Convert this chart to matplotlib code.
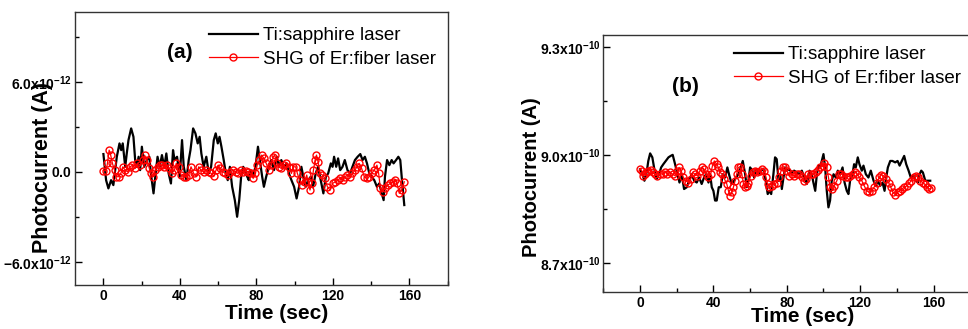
import numpy as np
import matplotlib
matplotlib.use("Agg")
import matplotlib.pyplot as plt
from matplotlib.ticker import MultipleLocator, FuncFormatter

plt.rcParams['font.family'] = ['Liberation Sans', 'DejaVu Sans']
plt.rcParams['font.weight'] = 'bold'
plt.rcParams['mathtext.fontset'] = 'custom'
plt.rcParams['mathtext.rm'] = 'Liberation Sans'
plt.rcParams['mathtext.bf'] = 'Liberation Sans:bold'
plt.rcParams['mathtext.it'] = 'Liberation Sans:italic'

# ---------------- panel (a): photocurrent in units of 1e-12 A ----------------
ti_a_t = [0.0, 1.4, 2.6, 4.0, 5.2, 7.0, 8.4, 9.3, 10.1, 11.4,
          12.2, 13.1, 14.5, 15.7, 16.6, 17.5, 18.4, 19.2, 20.1, 21.3,
          22.7, 24.0, 24.8, 26.2, 27.3, 28.3, 29.4, 30.6, 31.8, 32.9,
          34.1, 35.3, 36.4, 37.2, 38.5, 39.9, 41.1, 42.0, 43.4, 44.6,
          45.5, 46.9, 48.1, 49.3, 50.3, 51.2, 52.4, 53.8, 55.1, 56.3,
          57.7, 58.7, 59.8, 60.7, 61.7, 62.9, 64.0, 65.0, 66.1, 67.3,
          68.7, 69.9, 71.0, 72.0, 73.1, 73.9, 75.2, 76.0, 76.9, 78.1,
          79.5, 80.8, 81.8, 83.0, 83.9, 85.1, 86.5, 87.8, 89.2, 90.6,
          91.8, 93.0, 94.4, 95.8, 97.0, 98.3, 99.7, 101.0, 102.3, 103.5,
          104.5, 105.8, 107.0, 108.4, 109.6, 111.0, 112.2, 113.6, 115.0, 116.3,
          117.5, 118.9, 119.8, 120.6, 121.7, 122.7, 123.8, 125.0, 126.2, 127.6,
          129.0, 130.2, 131.5, 132.9, 134.3, 135.5, 136.7, 137.8, 139.0, 140.2,
          141.6, 143.0, 144.2, 145.5, 146.5, 147.2, 148.3, 149.5, 150.7, 151.7,
          153.0, 154.2, 155.2, 156.1, 157.3]
ti_a_v = [1.18, -0.56, -1.11, -0.56, -0.89, 1.0, 1.89, 1.44, 1.89, 0.33,
          1.22, 2.11, 2.89, 2.33, 0.78, 0.33, 1.0, 0.11, 1.67, 0.33,
          0.78, 1.0, -0.11, -1.44, -0.11, 1.0, 0.33, 1.11, 0.33, 1.22,
          -0.11, -0.78, 1.44, 0.78, 1.0, -0.33, 2.11, 0.33, -0.56, 0.78,
          1.44, 2.89, 2.56, 1.89, 2.33, 1.22, 0.33, 1.0, -0.11, 0.33,
          2.11, 2.56, 1.89, 2.33, 1.67, 0.78, -0.11, -0.56, 0.33, -1.0,
          -1.89, -3.0, -1.89, -0.33, 0.33, 0.11, -0.33, -0.56, 0.11, -0.33,
          0.33, 1.67, 0.78, -0.33, -1.0, -0.33, 0.33, 0.78, 0.11, 1.0,
          0.33, 0.78, 0.33, 0.56, -0.11, -0.56, -1.0, -1.78, -1.0, 0.33,
          -0.33, -1.0, -0.56, -0.33, -1.0, -0.11, 0.33, -0.56, -1.44, -0.33,
          -0.11, 0.56, 0.33, 1.0, 0.33, 0.89, 0.11, 0.33, 0.78, 0.11,
          -0.11, 0.33, 0.78, 1.0, 1.18, 0.78, 1.0, 0.56, -0.11, -0.33,
          -0.56, -1.0, -0.78, -1.44, -1.89, -0.33, 0.78, 0.44, 0.78, 0.56,
          0.78, 1.0, 0.78, -0.56, -2.22]

shg_a_t = [0.0, 1.4, 2.1, 3.0, 3.8, 4.7, 5.8, 6.6, 7.9, 9.1,
           10.1, 11.4, 12.6, 14.0, 15.2, 16.6, 17.8, 19.2, 20.6, 21.5,
           22.7, 24.0, 24.8, 25.9, 27.1, 28.3, 29.4, 30.6, 31.8, 33.2,
           34.4, 35.8, 37.1, 38.1, 39.3, 40.6, 42.0, 43.2, 44.6, 45.8,
           47.2, 48.6, 49.8, 51.0, 52.4, 53.8, 55.1, 56.3, 57.7, 58.9,
           60.0, 61.2, 62.4, 63.8, 65.0, 66.4, 67.8, 69.1, 70.3, 71.7,
           73.1, 74.3, 75.5, 76.9, 78.3, 79.5, 80.4, 81.6, 82.7, 83.9,
           85.1, 86.5, 87.8, 88.8, 89.5, 90.6, 91.8, 93.0, 94.4, 95.6,
           97.0, 98.3, 99.3, 100.5, 101.4, 102.6, 104.0, 105.2, 106.3, 107.0,
           108.0, 108.9, 109.8, 110.7, 111.4, 112.2, 113.3, 114.5, 115.7, 117.1,
           118.5, 119.8, 121.2, 122.4, 123.6, 125.0, 126.2, 127.6, 129.0, 130.2,
           131.5, 132.5, 133.7, 135.0, 136.4, 137.8, 139.0, 140.2, 141.6, 143.0,
           143.9, 144.8, 146.0, 147.2, 148.6, 150.0, 151.2, 152.4, 153.5, 154.7,
           155.9, 157.3]
shg_a_v = [0.07, 0.07, 0.56, 1.44, 1.11, 0.56, 0.11, -0.33, -0.33, -0.11,
           0.33, 0.11, 0.0, 0.33, 0.44, 0.22, 0.56, 0.44, 0.78, 1.11,
           0.78, 0.22, -0.11, -0.33, 0.11, 0.33, 0.44, 0.44, 0.33, 0.44,
           0.22, -0.11, 0.11, 0.56, 0.33, -0.22, -0.33, -0.33, -0.22, 0.33,
           -0.11, -0.33, 0.33, 0.11, 0.0, 0.11, 0.0, -0.11, -0.29, 0.11,
           0.44, 0.22, 0.0, -0.11, -0.22, 0.0, 0.11, 0.0, -0.11, 0.11,
           0.0, 0.07, 0.0, -0.11, -0.44, -0.11, 0.44, 0.78, 1.11, 0.89,
           0.56, 0.11, 0.44, 1.0, 1.11, 0.56, 0.33, 0.22, 0.44, 0.56,
           0.33, -0.11, 0.33, 0.33, -0.11, -0.56, -0.89, -0.67, -0.22, -0.67,
           -1.22, -0.78, 0.11, 0.78, 1.11, 0.67, -0.11, -0.22, -0.44, -1.0,
           -1.22, -0.78, -0.67, -0.56, -0.44, -0.56, -0.33, -0.22, -0.33, -0.11,
           0.11, 0.33, 0.56, 0.22, -0.33, -0.44, -0.33, -0.11, 0.11, 0.44,
           -0.11, -1.11, -1.33, -1.11, -0.89, -0.78, -0.67, -0.56, -0.78, -1.44,
           -1.22, -0.67]

# ---------------- panel (b): photocurrent in units of 1e-10 A ----------------
ti_b_t = [0.0, 1.3, 2.4, 3.6, 4.5, 5.5, 6.7, 7.8, 9.1, 10.4,
          11.5, 12.7, 14.0, 15.5, 16.7, 17.8, 19.1, 20.4, 21.5, 22.7,
          24.0, 25.5, 26.7, 28.2, 29.5, 30.9, 32.2, 33.6, 34.9, 36.0,
          37.3, 38.2, 39.1, 40.0, 40.9, 41.8, 42.9, 44.0, 45.1, 46.4,
          47.6, 48.7, 50.0, 51.3, 52.4, 53.6, 54.9, 56.0, 57.3, 58.2,
          59.1, 60.0, 61.3, 62.2, 63.3, 64.5, 65.8, 67.3, 68.5, 69.6,
          70.5, 71.5, 72.7, 73.6, 74.5, 75.5, 76.4, 77.3, 78.2, 79.1,
          80.0, 81.3, 82.7, 84.0, 85.5, 86.9, 88.2, 89.5, 90.9, 92.4,
          93.6, 94.5, 95.5, 96.4, 97.3, 98.2, 99.1, 100.0, 100.9, 101.8,
          102.7, 103.6, 104.5, 105.5, 106.7, 107.8, 109.1, 110.4, 111.5, 112.7,
          113.6, 114.5, 115.8, 116.7, 117.6, 118.7, 119.6, 120.9, 121.8, 123.1,
          124.5, 125.8, 127.3, 128.5, 129.6, 130.9, 132.2, 133.3, 134.2, 135.1,
          136.4, 137.6, 139.1, 140.4, 141.5, 142.7, 144.0, 145.1, 146.4, 147.6,
          149.1, 150.4, 151.5, 152.4, 153.3, 154.2, 155.5, 156.7, 158.2]
ti_b_v = [8.960, 8.946, 8.928, 8.951, 8.983, 9.004, 8.993, 8.960, 8.933, 8.946,
          8.965, 8.974, 8.983, 8.993, 8.997, 9.000, 8.974, 8.946, 8.923, 8.946,
          8.905, 8.910, 8.928, 8.946, 8.928, 8.923, 8.937, 8.919, 8.937, 8.946,
          8.923, 8.946, 8.910, 8.900, 8.873, 8.873, 8.910, 8.910, 8.946, 8.937,
          8.965, 8.942, 8.919, 8.928, 8.937, 8.946, 8.965, 8.983, 8.946, 8.910,
          8.928, 8.965, 8.956, 8.937, 8.960, 8.946, 8.956, 8.960, 8.928, 8.891,
          8.900, 8.891, 8.946, 8.993, 8.988, 8.928, 8.946, 8.905, 8.937, 8.965,
          8.956, 8.960, 8.951, 8.956, 8.951, 8.946, 8.956, 8.937, 8.919, 8.956,
          8.946, 8.923, 8.900, 8.946, 8.970, 8.965, 8.983, 9.002, 8.965, 8.900,
          8.854, 8.873, 8.928, 8.946, 8.937, 8.956, 8.946, 8.965, 8.923, 8.900,
          8.891, 8.928, 8.946, 8.974, 8.965, 8.993, 8.974, 8.956, 8.970, 8.946,
          8.937, 8.956, 8.928, 8.914, 8.928, 8.914, 8.923, 8.900, 8.937, 8.965,
          8.983, 8.983, 8.979, 8.983, 8.970, 8.983, 8.997, 8.974, 8.956, 8.937,
          8.942, 8.928, 8.923, 8.946, 8.956, 8.951, 8.928, 8.928, 8.928]

shg_b_t = [0.0, 0.9, 1.8, 2.7, 3.6, 4.5, 5.8, 6.9, 8.2, 9.5,
           10.9, 12.4, 13.6, 14.9, 16.4, 17.8, 19.1, 20.4, 21.3, 22.4,
           23.6, 24.9, 26.4, 27.6, 28.7, 30.0, 31.3, 32.7, 34.0, 34.9,
           36.0, 37.3, 38.5, 39.5, 40.5, 41.8, 42.7, 43.6, 44.9, 46.0,
           47.3, 48.2, 49.1, 50.0, 50.9, 51.8, 52.7, 53.6, 54.4, 55.5,
           56.4, 57.3, 58.2, 59.1, 60.4, 61.5, 62.7, 64.0, 65.5, 66.7,
           67.8, 68.7, 69.5, 70.5, 71.8, 73.1, 74.5, 75.8, 76.9, 78.2,
           79.1, 80.0, 81.3, 82.7, 84.0, 85.5, 86.9, 88.2, 89.5, 90.5,
           91.8, 93.1, 94.5, 95.8, 96.9, 98.2, 99.5, 100.5, 101.8, 102.7,
           103.6, 104.5, 105.8, 107.3, 108.5, 109.6, 110.9, 112.2, 113.3, 114.5,
           116.0, 117.3, 118.5, 119.6, 120.9, 122.2, 123.6, 124.9, 126.4, 127.6,
           129.1, 130.4, 131.5, 132.7, 134.0, 135.5, 136.7, 137.8, 139.1, 140.4,
           141.5, 142.7, 144.0, 145.5, 146.7, 147.8, 149.1, 150.4, 151.5, 152.7,
           154.0, 155.1, 156.4, 157.6, 158.7]
shg_b_v = [8.960, 8.956, 8.942, 8.946, 8.951, 8.956, 8.958, 8.951, 8.946, 8.942,
           8.948, 8.946, 8.951, 8.948, 8.951, 8.946, 8.942, 8.956, 8.965, 8.956,
           8.937, 8.928, 8.923, 8.933, 8.951, 8.946, 8.942, 8.956, 8.965, 8.960,
           8.946, 8.937, 8.946, 8.970, 8.983, 8.974, 8.965, 8.951, 8.946, 8.933,
           8.919, 8.900, 8.886, 8.896, 8.910, 8.928, 8.946, 8.965, 8.967, 8.946,
           8.919, 8.910, 8.914, 8.923, 8.942, 8.951, 8.954, 8.951, 8.956, 8.960,
           8.956, 8.937, 8.919, 8.910, 8.914, 8.919, 8.923, 8.937, 8.956, 8.967,
           8.965, 8.956, 8.942, 8.946, 8.942, 8.946, 8.946, 8.937, 8.928, 8.933,
           8.946, 8.946, 8.946, 8.951, 8.958, 8.965, 8.970, 8.976, 8.965, 8.937,
           8.910, 8.905, 8.914, 8.928, 8.946, 8.948, 8.942, 8.937, 8.939, 8.942,
           8.946, 8.951, 8.946, 8.937, 8.928, 8.914, 8.900, 8.896, 8.900, 8.910,
           8.923, 8.937, 8.945, 8.942, 8.933, 8.923, 8.910, 8.896, 8.889, 8.896,
           8.900, 8.905, 8.910, 8.914, 8.921, 8.928, 8.937, 8.942, 8.937, 8.928,
           8.923, 8.919, 8.910, 8.905, 8.908]

series_labels = ["Ti:sapphire laser", "SHG of Er:fiber laser"]
panel_tags = ["(a)", "(b)"]


def sci_label(val, pos):
    if abs(val) < 1e-20:
        return r'$\mathbf{0.0}$'
    exp = int(np.floor(np.log10(abs(val)) + 1e-9))
    mant = val / 10.0 ** exp
    return r'$\mathbf{%.1fx10}^{\mathbf{%d}}$' % (mant, exp)


fig = plt.figure(figsize=(9.68, 3.29), dpi=100)
ax_a = fig.add_axes([0.0772, 0.1337, 0.3853, 0.8307])
ax_b = fig.add_axes([0.6233, 0.1116, 0.3790, 0.7820])


def draw_panel(ax, t_ti, v_ti, t_shg, v_shg, scale):
    ax.plot(t_ti, np.array(v_ti) * scale, color='black', lw=1.6,
            label=series_labels[0], zorder=2)
    ax.plot(t_shg, np.array(v_shg) * scale, color='red', lw=0.9,
            marker='o', ms=5.0, mfc='none', mec='red', mew=1.0,
            label=series_labels[1], zorder=3)
    ax.xaxis.set_major_locator(MultipleLocator(40))
    ax.xaxis.set_minor_locator(MultipleLocator(20))
    ax.yaxis.set_major_formatter(FuncFormatter(sci_label))
    ax.tick_params(which='both', direction='in', width=1.0, labelsize=10,
                   top=False, right=False)
    ax.tick_params(which='major', length=5, pad=3)
    ax.tick_params(which='minor', length=3)
    ax.tick_params(axis='y', pad=2)
    for s in ax.spines.values():
        s.set_linewidth(1.0)
        s.set_color('#333333')
    ax.set_xlabel("Time (sec)", fontsize=15, fontweight='bold')


draw_panel(ax_a, ti_a_t, ti_a_v, shg_a_t, shg_a_v, 1e-12)
ax_a.set_xlim(-15, 180)
ax_a.set_ylim(-7.55e-12, 10.67e-12)
ax_a.yaxis.set_major_locator(MultipleLocator(6e-12))
ax_a.yaxis.set_minor_locator(MultipleLocator(3e-12))
ax_a.set_ylabel("Photocurrent (A)", fontsize=15.5, fontweight='bold')
ax_a.yaxis.set_label_coords(-0.058, 0.43)
ax_a.xaxis.set_label_coords(0.541, -0.068)
ax_a.text(180 / 968, 1 - 53 / 329, panel_tags[0], transform=fig.transFigure,
          fontsize=15, fontweight='bold', ha='center', va='center')

draw_panel(ax_b, ti_b_t, ti_b_v, shg_b_t, shg_b_v, 1e-10)
ax_b.set_xlim(-20, 180)
ax_b.set_ylim(8.618e-10, 9.333e-10)
ax_b.yaxis.set_major_locator(MultipleLocator(0.3e-10))
ax_b.yaxis.set_minor_locator(MultipleLocator(0.15e-10))
ax_b.set_ylabel("Photocurrent (A)", fontsize=14.5, fontweight='bold')
ax_b.yaxis.set_label_coords(-0.17, 0.448)
ax_b.xaxis.set_label_coords(0.543, -0.058)
ax_b.text(685.7 / 968, 1 - 86 / 329, panel_tags[1], transform=fig.transFigure,
          fontsize=15, fontweight='bold', ha='center', va='center')

leg_font = {'family': 'Liberation Sans', 'weight': 'normal', 'size': 13.5}
for ax, anchor in ((ax_a, (209 / 968, 1 - 27 / 329)),
                   (ax_b, (734 / 968, 1 - 46 / 329))):
    ax.legend(loc='upper left', bbox_to_anchor=anchor,
              bbox_transform=fig.transFigure, frameon=False, prop=leg_font,
              handlelength=2.6, handletextpad=0.3, labelspacing=0.35,
              borderpad=0, borderaxespad=0, numpoints=1)

fig.savefig("out.png", dpi=100)
